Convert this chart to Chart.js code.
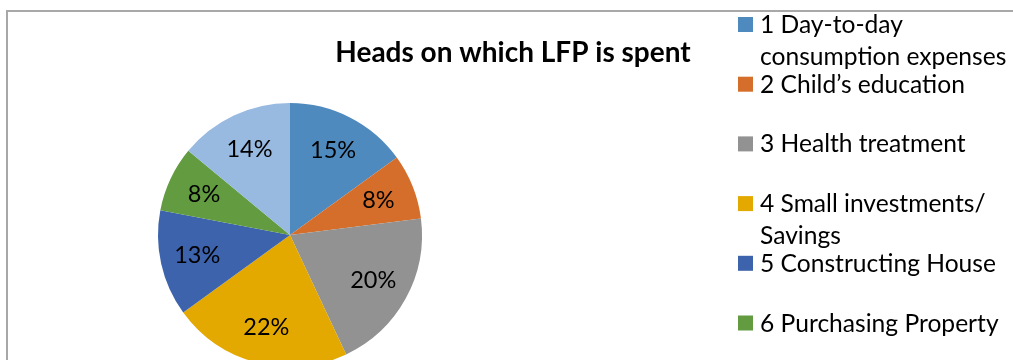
<!DOCTYPE html>
<html>
<head>
<meta charset="utf-8">
<script src="https://cdn.jsdelivr.net/npm/chart.js@4.4.1/dist/chart.umd.min.js"></script>
<style>
  html, body { margin: 0; padding: 0; background: #fff; }
  #wrap { width: 1013px; height: 360px; overflow: hidden; position: relative; }
  canvas { display: block; }
</style>
</head>
<body>
<div id="wrap">
  <canvas id="pie" width="1013" height="400"></canvas>
</div>
<script>
const chartTitle = "Heads on which LFP is spent";
// legend text, one entry per slice, already split into lines
const categories = [
  ["1 Day-to-day", "consumption expenses"],
  ["2 Child\u2019s education"],
  ["3 Health treatment"],
  ["4 Small investments/", "Savings"],
  ["5 Constructing House"],
  ["6 Purchasing Property"],
  ["7 Others"],
];
const shares = [15, 8, 20, 22, 13, 8, 14];
const sliceColors = ["#4f8abf", "#d56e2b", "#929292", "#e3a900", "#3d63ad", "#629b40", "#98b9e0"];

const FONT = "Lato, 'Open Sans', sans-serif";

// frame, title, slice percentages and the legend on the right
const decorations = {
  id: "decorations",
  beforeDraw(chart) {
    const c = chart.ctx;
    c.save();
    c.strokeStyle = "#a8a8a8";
    c.lineWidth = 2;
    c.beginPath();
    c.moveTo(1013, 11);
    c.lineTo(7, 11);
    c.lineTo(7, 400);
    c.stroke();
    c.restore();
  },
  afterDatasetsDraw(chart) {
    const c = chart.ctx;
    c.save();
    c.fillStyle = "#000";
    c.font = "bold 28px " + FONT;
    c.textAlign = "center";
    c.textBaseline = "alphabetic";
    c.fillText(chartTitle, 513, 62);

    // percentages inside the slices
    c.font = "23.5px " + FONT;
    c.textBaseline = "middle";
    const meta = chart.getDatasetMeta(0);
    meta.data.forEach((arc, i) => {
      const p = arc.getProps(["x", "y", "startAngle", "endAngle", "outerRadius"], true);
      const mid = (p.startAngle + p.endAngle) / 2;
      const r = p.outerRadius * 0.72;
      c.fillText(shares[i] + "%", p.x + Math.cos(mid) * r, p.y + Math.sin(mid) * r);
    });

    // legend
    c.textAlign = "left";
    c.textBaseline = "alphabetic";
    c.font = "24.6px " + FONT;
    categories.forEach((lines, i) => {
      const base = 33 + 59.7 * i;
      c.fillStyle = sliceColors[i];
      c.fillRect(738, base - 16, 15, 15);
      c.fillStyle = "#000";
      lines.forEach((t, k) => c.fillText(t, 760, base + k * 31.5));
    });
    c.restore();
  },
};

new Chart(document.getElementById("pie"), {
  type: "pie",
  data: {
    labels: categories.map(l => l.join(" ")),
    datasets: [{
      data: shares,
      backgroundColor: sliceColors,
      borderWidth: 0,
    }],
  },
  options: {
    responsive: false,
    animation: false,
    layout: { padding: { left: 158, right: 591, top: 103, bottom: 33 } },
    plugins: {
      legend: { display: false },
      tooltip: { enabled: false },
      title: { display: false },
    },
  },
  plugins: [decorations],
});
</script>
</body>
</html>
